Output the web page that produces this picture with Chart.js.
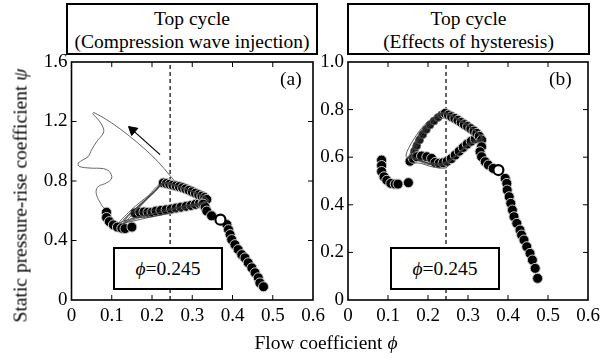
<!DOCTYPE html>
<html>
<head>
<meta charset="utf-8">
<script src="https://cdn.jsdelivr.net/npm/chart.js@4"></script>
<style>
  body { margin: 0; background: #fff; }
  #fig { position: relative; width: 613px; height: 358px; font-family: "Liberation Serif", "DejaVu Serif", "Noto Serif", Tinos, serif; color: #000; overflow: hidden; }
  canvas { position: absolute; top: 0; }
  .box { position: absolute; border: 2px solid #000; box-sizing: border-box; text-align: center; font-size: 19.5px; line-height: 23px; background: #fff; }
  .lbl { position: absolute; font-size: 19.5px; line-height: 23px; white-space: nowrap; }
</style>
</head>
<body>
<div id="fig">
  <canvas id="chartA" width="330" height="358" style="left:0"></canvas>
  <canvas id="chartB" width="300" height="358" style="left:313px"></canvas>

  <div class="box" style="left:66px;top:3px;width:252px;height:52px;padding-top:2px">Top cycle<br>(Compression wave injection)</div>
  <div class="box" style="left:347px;top:3px;width:243px;height:52px;padding-top:2px">Top cycle<br>(Effects of hysteresis)</div>

  <div class="box" style="left:113px;top:247px;width:110px;height:43px;line-height:39px"><i>&#981;</i>=0.245</div>
  <div class="box" style="left:390px;top:247px;width:110px;height:43px;line-height:39px"><i>&#981;</i>=0.245</div>

  <div class="lbl" style="left:280px;top:67px">(a)</div>
  <div class="lbl" style="left:549px;top:67px">(b)</div>

  <div class="lbl" style="left:-140px;top:184px;width:320px;text-align:center;transform:rotate(-90deg)">Static pressure-rise coefficient <i>&#968;</i></div>
  <div class="lbl" style="left:216px;top:331px;width:220px;text-align:center">Flow coefficient <i>&#981;</i></div>
</div>

<script>
// axis ticks
const phiTicks = [0, 0.1, 0.2, 0.3, 0.4, 0.5, 0.6];
const psiTicksA = [0, 0.4, 0.8, 1.2, 1.6];
const psiTicksB = [0, 0.2, 0.4, 0.6, 0.8, 1.0];
const phiDesign = 0.245;

// (a) compression wave injection: sampled operating points [phi, psi]
const markA = [
  [0.087, 0.59], [0.087, 0.555], [0.094, 0.527], [0.104, 0.505], [0.114, 0.49], [0.125, 0.482], [0.133, 0.48],
  [0.15, 0.49],
  [0.158, 0.585], [0.17, 0.59], [0.18, 0.592], [0.19, 0.59], [0.2, 0.59],
  [0.21, 0.598], [0.222, 0.602], [0.235, 0.606], [0.248, 0.612], [0.26, 0.618], [0.272, 0.624], [0.285, 0.63],
  [0.297, 0.636], [0.308, 0.643], [0.318, 0.65], [0.327, 0.656],
  [0.228, 0.787], [0.236, 0.783], [0.244, 0.778], [0.252, 0.772], [0.26, 0.767], [0.268, 0.762], [0.276, 0.755],
  [0.284, 0.747], [0.292, 0.738], [0.300, 0.728], [0.308, 0.718], [0.316, 0.708], [0.324, 0.699], [0.331, 0.689],
  [0.336, 0.676],
  [0.327, 0.645], [0.332, 0.625], [0.336, 0.598], [0.348, 0.566],
  [0.386, 0.507], [0.39, 0.473], [0.394, 0.44], [0.398, 0.406], [0.406, 0.372], [0.414, 0.339], [0.423, 0.305],
  [0.431, 0.283], [0.439, 0.25], [0.448, 0.216], [0.456, 0.183], [0.464, 0.149], [0.468, 0.115], [0.477, 0.089]
];
const openA = [[0.370, 0.540]];
const edgeA = [];

// (a) cycle trajectories
const loopA = [
  [0.125, 0.50], [0.16, 0.60], [0.20, 0.71], [0.228, 0.787], [0.26, 0.765], [0.30, 0.728], [0.335, 0.688], [0.342, 0.665],
  [0.31, 0.645], [0.26, 0.615], [0.21, 0.585], [0.165, 0.56], [0.13, 0.53],
  [0.118, 0.52], [0.15, 0.61], [0.19, 0.70], [0.225, 0.785], [0.27, 0.76], [0.31, 0.72], [0.338, 0.68], [0.335, 0.655],
  [0.29, 0.632], [0.24, 0.60], [0.19, 0.575], [0.15, 0.545], [0.128, 0.51],
  [0.14, 0.56], [0.175, 0.65], [0.21, 0.74], [0.232, 0.79], [0.28, 0.75], [0.325, 0.70], [0.34, 0.675], [0.33, 0.648],
  [0.28, 0.63], [0.23, 0.61], [0.19, 0.60], [0.16, 0.585], [0.158, 0.59],
  [0.18, 0.66], [0.215, 0.75], [0.23, 0.785], [0.29, 0.74], [0.333, 0.69], [0.338, 0.66], [0.3, 0.625], [0.25, 0.59],
  [0.2, 0.56], [0.16, 0.535], [0.135, 0.52],
  [0.122, 0.515], [0.165, 0.63], [0.205, 0.73], [0.23, 0.788], [0.3, 0.73], [0.336, 0.685], [0.335, 0.662],
  [0.29, 0.64], [0.24, 0.605], [0.2, 0.575], [0.165, 0.55], [0.14, 0.53],
  [0.13, 0.54], [0.17, 0.64], [0.21, 0.735], [0.226, 0.782], [0.27, 0.758], [0.32, 0.705], [0.34, 0.67],
  [0.31, 0.638], [0.26, 0.6], [0.22, 0.57], [0.18, 0.555], [0.15, 0.56], [0.16, 0.59]
];

// (a) surge excursion after injection
const surgeA = [
  [0.087, 0.59], [0.083, 0.607], [0.067, 0.674], [0.061, 0.73], [0.067, 0.764], [0.087, 0.787], [0.1, 0.82],
  [0.094, 0.864], [0.079, 0.883], [0.046, 0.887], [0.019, 0.898], [0.017, 0.92], [0.029, 0.943], [0.042, 0.965],
  [0.05, 1.01], [0.063, 1.066], [0.079, 1.122], [0.079, 1.156], [0.067, 1.211], [0.053, 1.252], [0.056, 1.26],
  [0.10, 1.19], [0.14, 1.11], [0.18, 1.02], [0.215, 0.93], [0.245, 0.835], [0.26, 0.79]
];
const arrowA = [[0.22, 0.977], [0.152, 1.142]];

// (b) effects of hysteresis
const markB = [
  [0.084, 0.588], [0.084, 0.565], [0.084, 0.54], [0.09, 0.518], [0.097, 0.503], [0.107, 0.49], [0.118, 0.487], [0.125, 0.487],
  [0.151, 0.493],
  [0.155, 0.583], [0.163, 0.595], [0.172, 0.602], [0.184, 0.605], [0.197, 0.602], [0.209, 0.595],
  [0.218, 0.578], [0.228, 0.575], [0.238, 0.577], [0.248, 0.583], [0.258, 0.594], [0.268, 0.609], [0.278, 0.625],
  [0.288, 0.641], [0.298, 0.655], [0.308, 0.667], [0.318, 0.677],
  [0.243, 0.784], [0.251, 0.777], [0.259, 0.77], [0.267, 0.763], [0.275, 0.755], [0.283, 0.746], [0.291, 0.737],
  [0.299, 0.729], [0.307, 0.72], [0.315, 0.71], [0.322, 0.7], [0.328, 0.688], [0.334, 0.672],
  [0.334, 0.644], [0.33, 0.623], [0.334, 0.602], [0.343, 0.581], [0.351, 0.567], [0.363, 0.553],
  [0.393, 0.511], [0.397, 0.49], [0.398, 0.462], [0.403, 0.434], [0.407, 0.406], [0.411, 0.378], [0.415, 0.35],
  [0.422, 0.322], [0.43, 0.294], [0.434, 0.273], [0.44, 0.252], [0.447, 0.224], [0.455, 0.196], [0.461, 0.168],
  [0.468, 0.133], [0.474, 0.091]
];
const openB = [[0.376, 0.546]];
// (b) densely overlapping samples on the rising left edge of the loop
const edgeB = [
  [0.166, 0.625], [0.172, 0.648], [0.179, 0.672], [0.187, 0.695], [0.196, 0.716], [0.205, 0.735],
  [0.215, 0.752], [0.225, 0.767], [0.234, 0.778]
];

const loopB = [
  [0.16, 0.60], [0.185, 0.68], [0.215, 0.75], [0.243, 0.785], [0.28, 0.752], [0.315, 0.715], [0.336, 0.68], [0.33, 0.665],
  [0.31, 0.672], [0.29, 0.645], [0.265, 0.60], [0.245, 0.575], [0.22, 0.565], [0.19, 0.58], [0.165, 0.595],
  [0.152, 0.60], [0.175, 0.67], [0.205, 0.745], [0.24, 0.79], [0.27, 0.76], [0.31, 0.72], [0.332, 0.69], [0.325, 0.668],
  [0.3, 0.655], [0.275, 0.615], [0.25, 0.585], [0.235, 0.57], [0.2, 0.57], [0.17, 0.59],
  [0.145, 0.605], [0.17, 0.69], [0.2, 0.75], [0.238, 0.787], [0.29, 0.745], [0.335, 0.69], [0.34, 0.67], [0.315, 0.665],
  [0.28, 0.625], [0.255, 0.58], [0.245, 0.555], [0.21, 0.56], [0.18, 0.575], [0.155, 0.58],
  [0.165, 0.64], [0.19, 0.72], [0.23, 0.78], [0.26, 0.77], [0.3, 0.73], [0.334, 0.685], [0.33, 0.67], [0.305, 0.66],
  [0.27, 0.61], [0.24, 0.578], [0.2, 0.575], [0.165, 0.6],
  [0.158, 0.62], [0.178, 0.7], [0.21, 0.76], [0.242, 0.786], [0.3, 0.735], [0.336, 0.682], [0.322, 0.672],
  [0.29, 0.635], [0.26, 0.59], [0.24, 0.565], [0.215, 0.568], [0.185, 0.585], [0.16, 0.6],
  [0.168, 0.66], [0.195, 0.735], [0.225, 0.775], [0.243, 0.783], [0.285, 0.75], [0.33, 0.692], [0.335, 0.672],
  [0.3, 0.65], [0.27, 0.605], [0.25, 0.58], [0.225, 0.572], [0.19, 0.59], [0.15, 0.598],
  [0.162, 0.61], [0.182, 0.69], [0.218, 0.757], [0.24, 0.782]
];

const pts = arr => arr.map(([x, y]) => ({ x, y }));
const fmt = v => (v === 0 ? '0' : v.toFixed(1));
const FONT = { family: '"Liberation Serif", "DejaVu Serif", "Noto Serif", Tinos, serif', size: 19 };

// closed frame with inward tick marks on all four sides
const frameTicks = {
  id: 'frameTicks',
  afterDatasetsDraw(chart) {
    const { ctx, chartArea: a, scales: { x, y } } = chart;
    const len = 5;
    ctx.save();
    ctx.strokeStyle = '#000';
    ctx.lineWidth = 1;
    ctx.beginPath();
    x.ticks.forEach(t => {
      const px = x.getPixelForValue(t.value);
      if (px <= a.left + 1 || px >= a.right - 1) return;
      ctx.moveTo(px, a.bottom); ctx.lineTo(px, a.bottom - len);
      ctx.moveTo(px, a.top); ctx.lineTo(px, a.top + len);
    });
    y.ticks.forEach(t => {
      const py = y.getPixelForValue(t.value);
      if (py <= a.top + 1 || py >= a.bottom - 1) return;
      ctx.moveTo(a.left, py); ctx.lineTo(a.left + len, py);
      ctx.moveTo(a.right, py); ctx.lineTo(a.right - len, py);
    });
    ctx.stroke();
    ctx.lineWidth = 1.6;
    ctx.strokeRect(a.left, a.top, a.right - a.left, a.bottom - a.top);
    ctx.restore();
  }
};

function panel(id, o) {
  const datasets = [
    {
      data: pts(o.open), pointRadius: 5, pointBackgroundColor: '#fff',
      pointBorderColor: '#000', pointBorderWidth: 2.2, showLine: false, order: 0
    },
    {
      data: pts(o.loop), showLine: true, borderColor: '#3a3a3a', borderWidth: 0.8,
      pointRadius: 0, tension: 0.3, order: 1
    },
    {
      data: pts(o.marks), pointRadius: 5, pointBackgroundColor: '#000',
      pointBorderColor: '#c8c8c8', pointBorderWidth: 1, showLine: false, order: 2
    },
    {
      data: pts(o.edge), pointRadius: 4, pointBackgroundColor: '#111',
      pointBorderColor: '#777', pointBorderWidth: 0.8, showLine: false, order: 2
    },
    {
      data: [{ x: phiDesign, y: 0 }, { x: phiDesign, y: o.psiTicks[o.psiTicks.length - 1] }],
      showLine: true, borderColor: '#000', borderWidth: 1.2, borderDash: [4, 3], pointRadius: 0, order: 4
    }
  ];
  if (o.surge) {
    datasets.push({
      data: pts(o.surge), showLine: true, borderColor: '#666', borderWidth: 1,
      pointRadius: 0, tension: 0.35, order: 3
    });
    datasets.push({
      data: pts(o.arrow), showLine: true, borderColor: '#000', borderWidth: 1.2,
      pointRadius: [0, 5.5], pointStyle: 'triangle', rotation: -49,
      pointBackgroundColor: '#000', pointBorderColor: '#000', pointBorderWidth: 1, order: 3
    });
  }

  return new Chart(document.getElementById(id), {
    type: 'scatter',
    data: { datasets },
    options: {
      responsive: false,
      animation: false,
      events: [],
      layout: { padding: o.padding },
      plugins: { legend: { display: false }, tooltip: { enabled: false } },
      scales: {
        x: {
          type: 'linear', min: 0, max: 0.6,
          grid: { display: false, drawTicks: false },
          border: { display: false },
          afterBuildTicks: s => { s.ticks = phiTicks.map(v => ({ value: v })); },
          afterFit: s => { s.height = 30; },
          ticks: { color: '#000', font: FONT, padding: 5, maxRotation: 0, callback: v => fmt(v) }
        },
        y: {
          type: 'linear', min: 0, max: o.psiTicks[o.psiTicks.length - 1],
          grid: { display: false, drawTicks: false },
          border: { display: false },
          afterBuildTicks: s => { s.ticks = o.psiTicks.map(v => ({ value: v })); },
          afterFit: s => { s.width = o.yWidth; },
          ticks: { color: '#000', font: FONT, padding: 4, callback: v => fmt(v) }
        }
      }
    },
    plugins: [frameTicks]
  });
}

panel('chartA', {
  marks: markA, open: openA, edge: edgeA, loop: loopA, surge: surgeA, arrow: arrowA,
  psiTicks: psiTicksA, yWidth: 40,
  padding: { left: 31.5, right: 17, top: 62, bottom: 28 }
});

panel('chartB', {
  marks: markB, open: openB, edge: edgeB, loop: loopB,
  psiTicks: psiTicksB, yWidth: 30,
  padding: { left: 5, right: 25, top: 62, bottom: 28 }
});
</script>
</body>
</html>
